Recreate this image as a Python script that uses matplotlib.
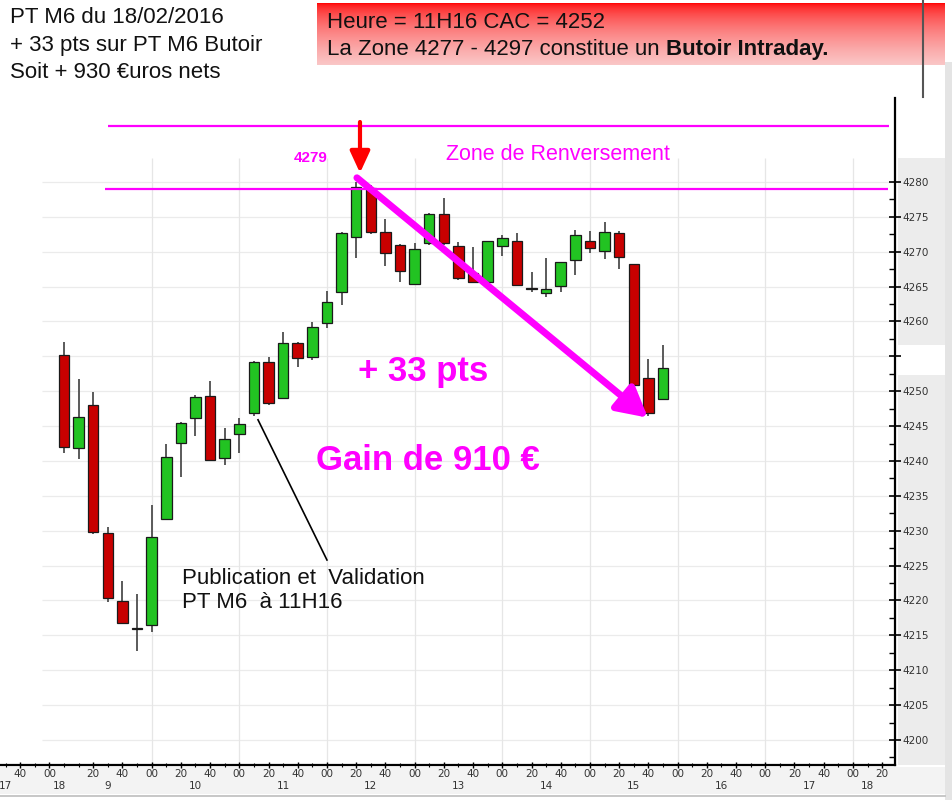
import matplotlib
matplotlib.use("Agg")
import matplotlib.pyplot as plt
from matplotlib.patches import Rectangle, FancyArrowPatch
import numpy as np

# 10-minute candles, 18/02/2016 from 9:00 to 15:50 (index 0 = 9:00)
opens = [4255.2, 4241.9, 4248.0, 4229.7, 4219.9, 4216.0, 4216.5, 4231.7, 4242.6, 4246.2,
         4249.3, 4240.4, 4243.9, 4246.9, 4254.2, 4249.0, 4256.9, 4254.9, 4259.8, 4264.2,
         4272.1, 4279.1, 4272.8, 4271.0, 4265.4, 4271.3, 4275.4, 4270.8, 4267.0, 4265.7,
         4270.8, 4271.5, 4264.8, 4264.1, 4265.1, 4268.8, 4271.5, 4270.1, 4272.7, 4268.2,
         4251.9, 4248.9]
highs = [4257.0, 4251.8, 4249.9, 4230.5, 4222.8, 4220.9, 4233.7, 4242.4, 4245.6, 4249.4,
         4251.5, 4244.7, 4246.2, 4254.4, 4254.9, 4258.5, 4257.0, 4259.9, 4264.4, 4272.8,
         4280.0, 4279.5, 4274.7, 4271.1, 4271.3, 4275.6, 4277.7, 4271.4, 4270.7, 4271.6,
         4272.4, 4272.7, 4267.1, 4269.1, 4268.5, 4273.1, 4273.0, 4274.3, 4273.0, 4268.3,
         4254.6, 4256.6]
lows = [4241.1, 4240.3, 4229.5, 4219.8, 4216.7, 4212.8, 4215.5, 4231.5, 4237.7, 4243.6,
        4240.0, 4239.4, 4241.1, 4246.5, 4248.0, 4248.9, 4253.5, 4254.5, 4259.1, 4262.4,
        4269.1, 4272.6, 4268.0, 4265.7, 4265.3, 4271.0, 4271.0, 4266.0, 4265.5, 4265.6,
        4269.4, 4265.1, 4264.2, 4263.5, 4264.2, 4266.7, 4269.8, 4269.0, 4267.5, 4250.8,
        4246.5, 4248.8]
closes = [4242.0, 4246.3, 4229.8, 4220.4, 4216.8, 4215.9, 4229.1, 4240.6, 4245.4, 4249.2,
          4240.1, 4243.2, 4245.3, 4254.2, 4248.3, 4256.9, 4254.8, 4259.2, 4262.8, 4272.7,
          4279.3, 4272.8, 4269.8, 4267.2, 4270.4, 4275.4, 4271.3, 4266.2, 4265.7, 4271.5,
          4272.0, 4265.2, 4264.6, 4264.7, 4268.5, 4272.4, 4270.5, 4272.8, 4269.2, 4250.9,
          4246.9, 4253.3]

# x axis labels (candle index positions)
minute_pos = [-3, -1] + list(range(2, 57, 2))
minute_lab = ["40", "00"] + ["20", "40", "00"] * 9 + ["20"]
hour_pos = [-4.0, -0.3, 3, 9, 15, 21, 27, 33, 39, 45, 51, 55]
hour_lab = ["17", "18", "9", "10", "11", "12", "13", "14", "15", "16", "17", "18"]
hour_grid = [6, 12, 18, 24, 30, 36, 42, 48, 54]
price_ticks = list(range(4200, 4281, 5))

# annotations
zone_high, zone_low = 4288.0, 4279.0
top_price = 4279
arrow_start = (20.05, 4280.6)
arrow_end = (39.97, 4246.2)

W, H = 953, 800
fig = plt.figure(figsize=(W / 100, H / 100), dpi=100)
fig.patch.set_facecolor("white")


def fx(x):
    return x / W


def fy(y):
    return 1 - y / H


def fig_rect(x0, y0, x1, y1, color, z=0):
    fig.add_artist(Rectangle((fx(x0), fy(y1)), fx(x1) - fx(x0), fy(y0) - fy(y1),
                             transform=fig.transFigure, facecolor=color,
                             edgecolor="none", zorder=z))


# grey tick label bands
fig_rect(898, 158, 945, 345, "#ececec")
fig_rect(898, 375, 945, 765, "#ececec")
fig_rect(0, 767, 945, 794, "#f3f3f3")
fig_rect(945, 62, 953, 800, "#e4e4e4")
fig.add_artist(plt.Line2D([0, fx(945)], [fy(796), fy(796)], transform=fig.transFigure,
                          color="#bdbdbd", lw=1.2))
fig.add_artist(plt.Line2D([fx(923), fx(923)], [fy(0), fy(97)], transform=fig.transFigure,
                          color="#555555", lw=1.5))

ax = fig.add_axes([0, fy(765), fx(895), fy(98) - fy(765)])
ax.set_facecolor("none")
ax.set_xlim(-4.38, 56.88)
ax.set_ylim(4196.41, 4292.04)

for s in ["top", "left"]:
    ax.spines[s].set_visible(False)
for s in ["bottom", "right"]:
    ax.spines[s].set_color("black")
    ax.spines[s].set_linewidth(1.6)

# grid
ax.hlines(price_ticks, -1.5, 56.88, color="#ebebeb", lw=0.9, zorder=0)
ax.vlines(hour_grid, 4196.41, 4283.4, color="#e6e6e6", lw=0.9, zorder=0)

# candles
idx = np.arange(len(opens))
for i in idx:
    o, h, l, c = opens[i], highs[i], lows[i], closes[i]
    ax.vlines(i, l, h, color="#5a5a5a", lw=1.4, zorder=2)
    col = "#22c322" if c > o else "#c80000"
    bottom = min(o, c)
    height = max(abs(c - o), 0.15)
    ax.add_patch(Rectangle((i - 0.36, bottom), 0.72, height, facecolor=col,
                           edgecolor="#1a1a1a", lw=0.9, zorder=3))

# y axis on right
ax.yaxis.tick_right()
ax.set_yticks(price_ticks)
ax.set_yticklabels(["" if p == 4255 else str(p) for p in price_ticks])
ax.set_yticks([p + 2.5 for p in price_ticks[:-1]] + [4197.5], minor=True)
ax.tick_params(axis="y", which="major", direction="inout", length=9, width=1.2,
               labelsize=7.5, labelcolor="#333333", pad=1)
ax.tick_params(axis="y", which="minor", direction="in", length=4, width=1.0)

# x axis
ax.set_xticks(minute_pos)
ax.set_xticklabels(minute_lab)
ax.set_xticks(np.arange(-4, 57), minor=True)
ax.tick_params(axis="x", which="major", direction="inout", length=4, width=1.0,
               labelsize=7.5, labelcolor="#333333", pad=1)
ax.tick_params(axis="x", which="minor", direction="inout", length=3, width=0.8)
for p, lab in zip(hour_pos, hour_lab):
    ax.text(p, -0.032, lab, transform=ax.get_xaxis_transform(), ha="center",
            va="center", fontsize=7.5, color="#333333")

sans = ["Liberation Sans", "DejaVu Sans"]
mag = "#ff00ff"

# zone lines
ax.hlines(zone_high, 3.0, 56.5, color=mag, lw=1.6, zorder=4)
ax.hlines(zone_low, 2.8, 56.4, color=mag, lw=1.6, zorder=4)
ax.text(33.8, 4283.9, "Zone de Renversement", color=mag, fontsize=15.5,
        family=sans, ha="center", va="center")
ax.text(16.9, 4283.4, str(top_price), color=mag, fontsize=11, fontweight="bold",
        family=sans, ha="center", va="center")

# red arrow at top
ax.add_patch(FancyArrowPatch((20.26, 4288.6), (20.26, 4281.3),
                             arrowstyle="-|>,head_length=1.3,head_width=0.6",
                             mutation_scale=10, color="#ff0000", lw=3, shrinkA=0, shrinkB=0,
                             zorder=6))

# magenta down arrow
ax.add_patch(FancyArrowPatch(arrow_start, arrow_end,
                             arrowstyle="-|>,head_length=1.2,head_width=0.65",
                             mutation_scale=15, color=mag, lw=5, shrinkA=0, shrinkB=0,
                             zorder=6))

ax.text(20.1, 4252.8, "+ 33 pts", color=mag, fontsize=25, fontweight="bold",
        family=sans, ha="left", va="center")
ax.text(17.25, 4240.1, "Gain de 910 €", color=mag, fontsize=25, fontweight="bold",
        family=sans, ha="left", va="center")

# publication note
ax.plot([13.28, 18.0], [4245.9, 4225.8], color="black", lw=1.2, zorder=5)
ax.text(8.08, 4221.4, "Publication et  Validation\nPT M6  à 11H16", color="#111111",
        fontsize=16, family=sans, ha="left", va="center", linespacing=1.22)

# top left text
fig.text(fx(10), fy(45), "PT M6 du 18/02/2016\n+ 33 pts sur PT M6 Butoir\nSoit + 930 €uros nets",
         fontsize=16, family=sans, ha="left", va="center", linespacing=1.38, color="#111111")

# red gradient box
bax = fig.add_axes([fx(317), fy(65), fx(945) - fx(317), fy(3) - fy(65)])
t = np.linspace(0, 1, 100) ** 0.55
grad = np.zeros((100, 1, 3))
grad[:, 0, 0] = 1.0 - 0.02 * t
grad[:, 0, 1] = 0.78 * t
grad[:, 0, 2] = 0.78 * t
bax.imshow(grad, aspect="auto", extent=[0, 1, 0, 1], origin="upper")
bax.set_xlim(0, 1)
bax.set_ylim(0, 1)
bax.axis("off")
bax.text(0.016, 0.69, "Heure = 11H16 CAC = 4252", fontsize=16, family=sans,
         ha="left", va="center", color="#111111")
t1 = bax.text(0.016, 0.25, "La Zone 4277 - 4297 constitue un ", fontsize=16, family=sans,
              ha="left", va="center", color="#111111")
bax.annotate("Butoir Intraday.", xycoords=t1, xy=(1, 0.5), va="center", ha="left",
             fontsize=16, family=sans, fontweight="bold", color="#111111")

fig.savefig("out.png", dpi=100)
